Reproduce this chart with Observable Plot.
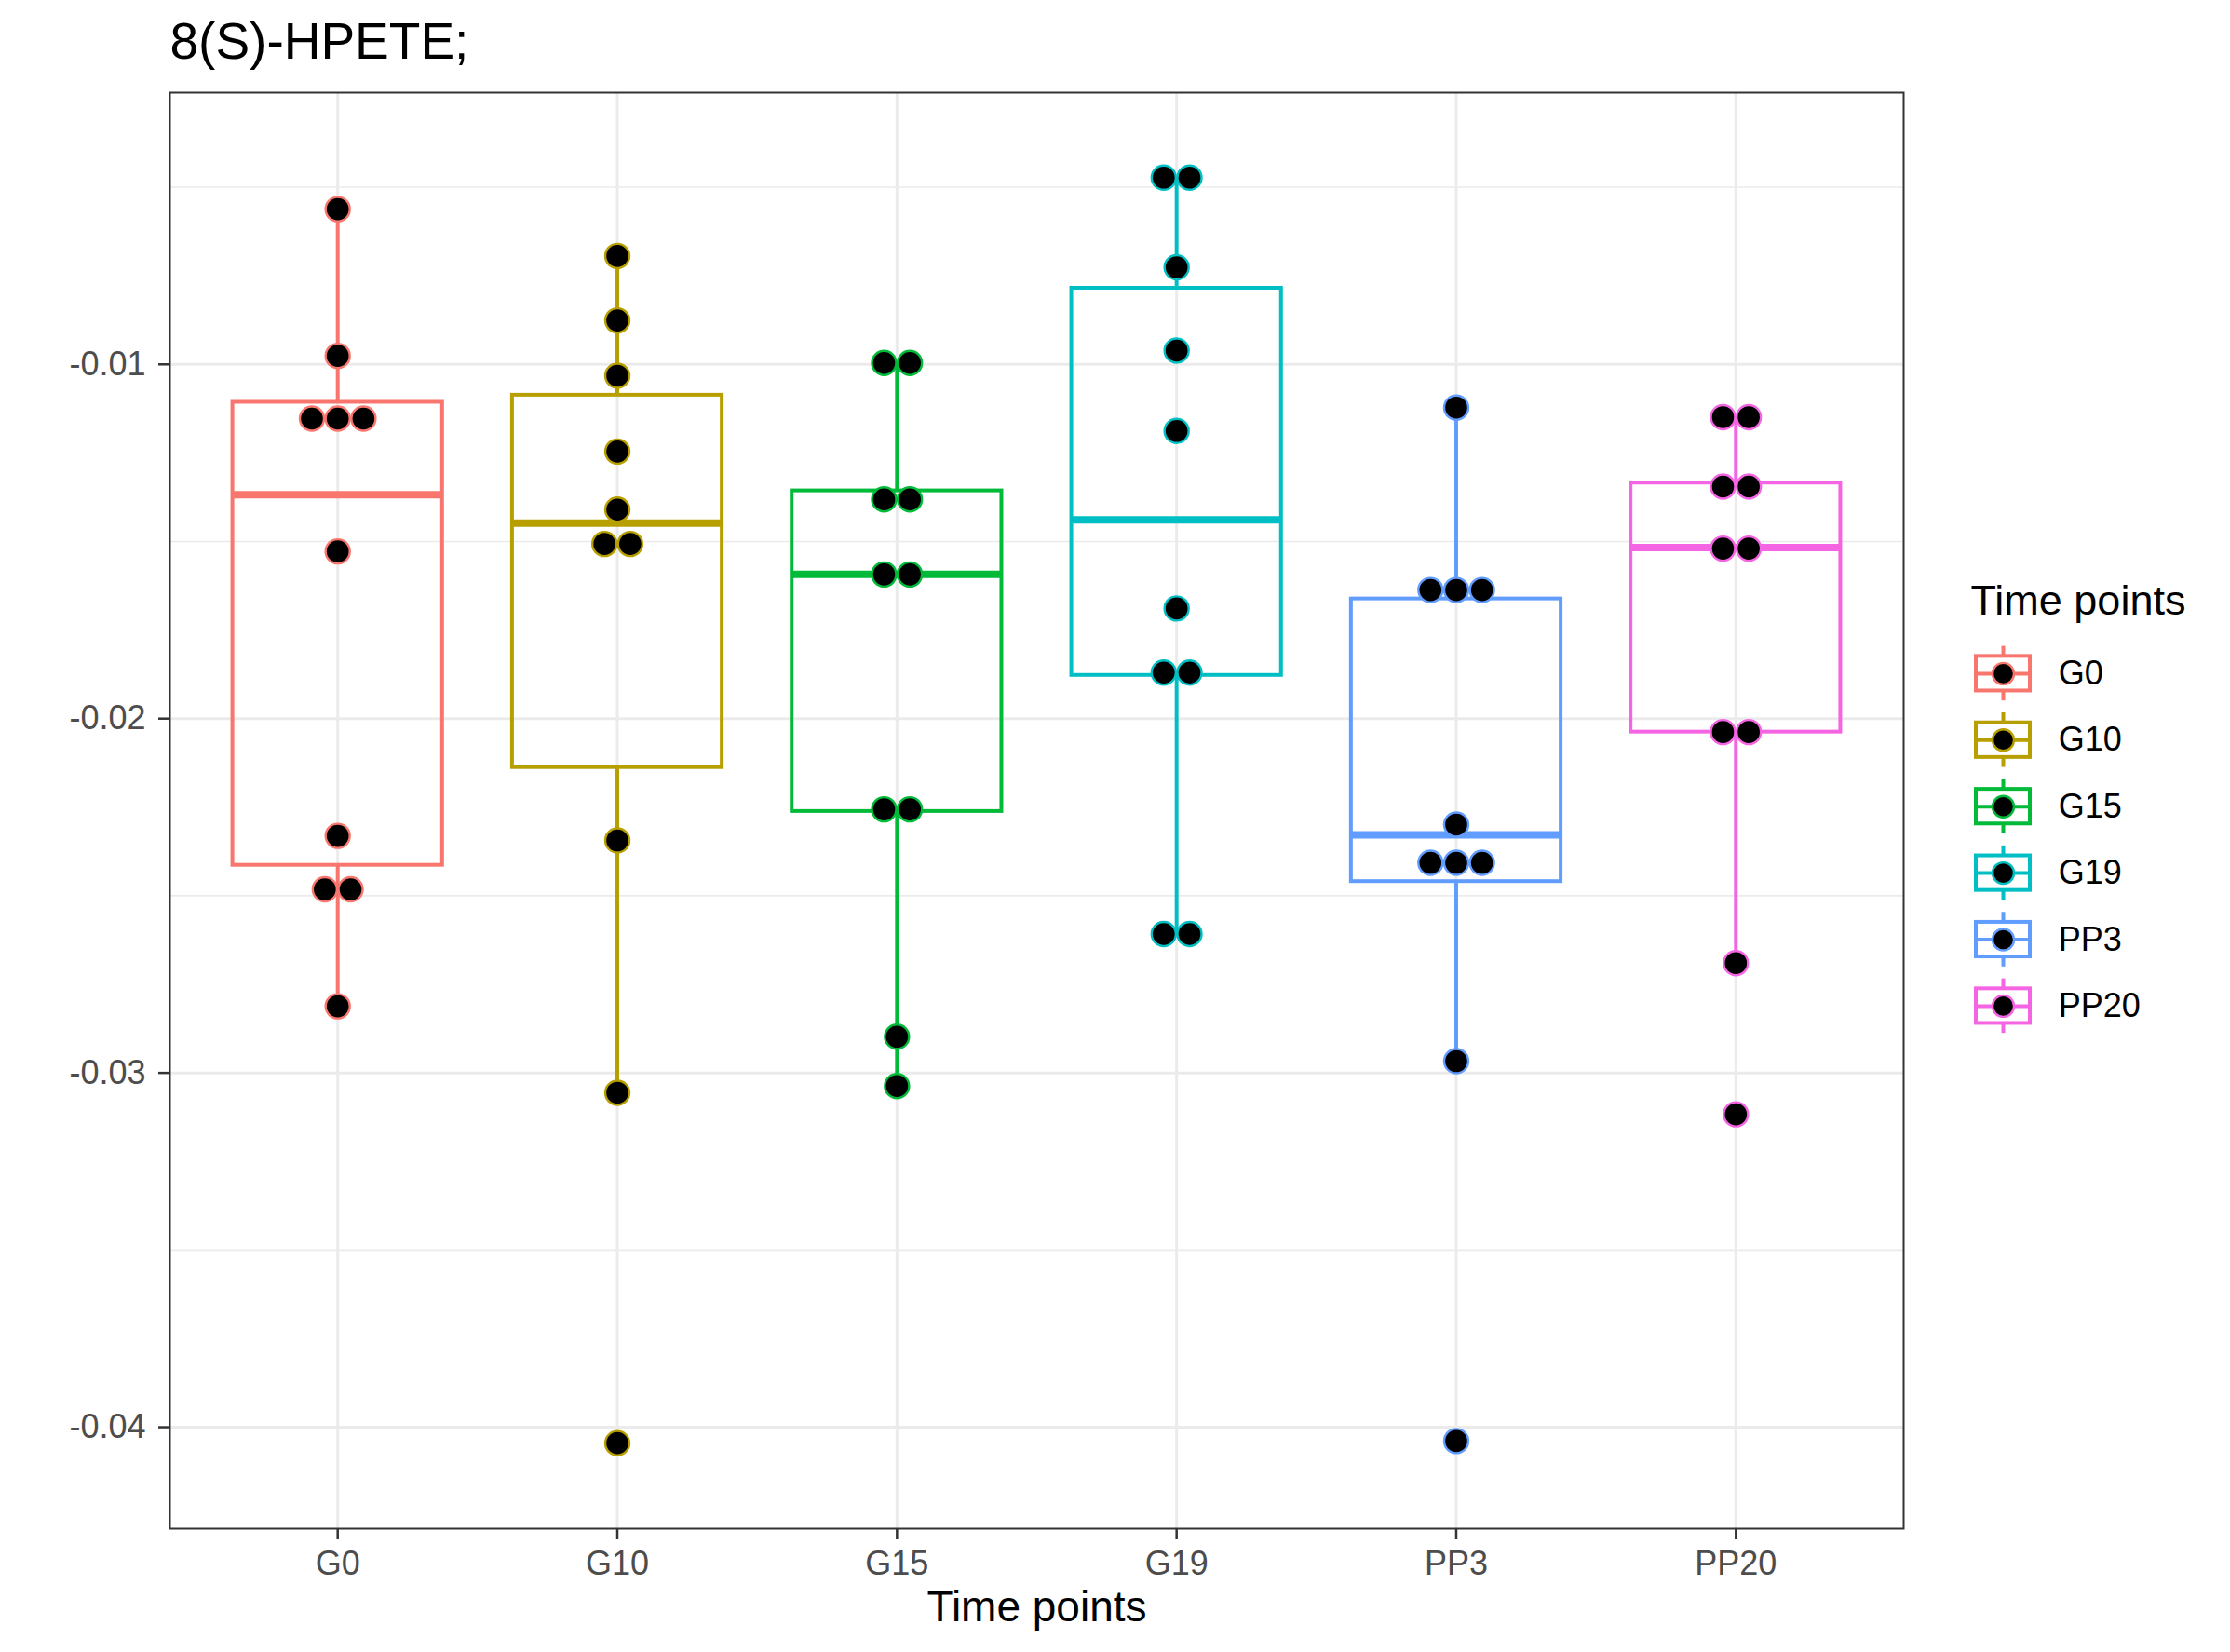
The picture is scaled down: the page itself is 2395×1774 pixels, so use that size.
<!DOCTYPE html>
<html><head><meta charset="utf-8">
<script src="https://cdn.jsdelivr.net/npm/d3@7"></script>
<script src="https://cdn.jsdelivr.net/npm/@observablehq/plot@0.6"></script>
<style>
html,body{margin:0;padding:0;background:#fff;}
#wrap{position:relative;width:2395px;height:1774px;overflow:hidden;background:#fff;}
#wrap svg{position:absolute;}
</style></head><body><div id="wrap"></div>
<script>
const cats = ["G0","G10","G15","G19","PP3","PP20"];
const palette = ["#F8766D","#B79F00","#00BA38","#00BFC4","#619CFF","#F564E3"];

// observed values (as stacked by the dot plot)
const G0   = [-0.00562,-0.00976,-0.01153,-0.01153,-0.01153,-0.01528,-0.02331,-0.02482,-0.02482,-0.02812];
const G10  = [-0.00694,-0.00876,-0.01032,-0.01246,-0.0141,-0.01507,-0.01507,-0.02344,-0.03056,-0.04045];
const G15  = [-0.00996,-0.00996,-0.01381,-0.01381,-0.01593,-0.01593,-0.02256,-0.02256,-0.02898,-0.03037];
const G19  = [-0.00473,-0.00473,-0.00726,-0.00961,-0.01188,-0.01689,-0.0187,-0.0187,-0.02608,-0.02608];
const PP3  = [-0.01122,-0.01637,-0.01637,-0.01637,-0.02299,-0.02407,-0.02407,-0.02407,-0.02967,-0.04039];
const PP20 = [-0.01149,-0.01149,-0.01345,-0.01345,-0.0152,-0.0152,-0.02038,-0.02038,-0.0269,-0.03117];

// box statistics
const whiskerHigh = [-0.00562,-0.00694,-0.00996,-0.00473,-0.01122,-0.01149];
const q3          = [-0.01107,-0.01087,-0.01357,-0.00785,-0.01662,-0.01335];
const median      = [-0.01368,-0.01448,-0.01593,-0.01439,-0.02328,-0.01517];
const q1          = [-0.02414,-0.02138,-0.02262,-0.01878,-0.0246,-0.02038];
const whiskerLow  = [-0.02812,-0.03056,-0.03037,-0.02608,-0.02967,-0.0269];

const yTicks = [-0.04,-0.03,-0.02,-0.01];
const yMinor = [-0.035,-0.025,-0.015,-0.005];

const groups = [G0,G10,G15,G19,PP3,PP20];
const boxes = cats.map((c,i)=>({cat:c,i,lo:whiskerLow[i],q1:q1[i],med:median[i],q3:q3[i],hi:whiskerHigh[i]}));
const dotStep = 0.0922, halfBox = 0.375;
const dots = [];
groups.forEach((vals,i)=>{
  const counts = d3.rollup(vals, v=>v.length, v=>v);
  const seen = new Map();
  vals.forEach(v=>{
    const k = counts.get(v), j = seen.get(v)||0; seen.set(v,j+1);
    dots.push({cat:cats[i], x: i + (j-(k-1)/2)*dotStep, y: v});
  });
});

const font = '"Liberation Sans", Arial, Helvetica, sans-serif';

const main = Plot.plot({
  width: 2395, height: 1774,
  marginLeft: 182, marginRight: 351, marginTop: 99, marginBottom: 133,
  style: {fontFamily: font, background: "transparent", overflow: "visible"},
  x: {type: "linear", domain: [-0.6, 5.6]},
  y: {type: "linear", domain: [-0.042864, -0.00233]},
  color: {type: "ordinal", domain: cats, range: palette},
  marks: [
    Plot.gridY(yMinor, {stroke: "#EBEBEB", strokeOpacity: 1, strokeWidth: 1.6}),
    Plot.gridY(yTicks, {stroke: "#EBEBEB", strokeOpacity: 1, strokeWidth: 3}),
    Plot.gridX(d3.range(cats.length), {stroke: "#EBEBEB", strokeOpacity: 1, strokeWidth: 3}),
    Plot.ruleX(boxes, {x: "i", y1: "q3", y2: "hi", stroke: "cat", strokeWidth: 4}),
    Plot.ruleX(boxes, {x: "i", y1: "lo", y2: "q1", stroke: "cat", strokeWidth: 4}),
    Plot.rect(boxes, {x1: d=>d.i-halfBox, x2: d=>d.i+halfBox, y1: "q1", y2: "q3", stroke: "cat", fill: "none", strokeWidth: 4}),
    Plot.ruleY(boxes, {y: "med", x1: d=>d.i-halfBox, x2: d=>d.i+halfBox, stroke: "cat", strokeWidth: 8}),
    Plot.dot(dots, {x: "x", y: "y", r: 13, fill: "black", stroke: "cat", strokeWidth: 2.4}),
    Plot.frame({stroke: "#333333", strokeWidth: 2}),
    Plot.axisY(yTicks, {tickFormat: d=>String(d), tickSize: 12, tickPadding: 14, fontSize: 36, color: "#4D4D4D", stroke: "#333333", strokeWidth: 2.5, label: null}),
    Plot.axisX(d3.range(cats.length), {tickFormat: i=>cats[i], tickSize: 12, tickPadding: 12, fontSize: 36, color: "#4D4D4D", stroke: "#333333", strokeWidth: 2.5, label: null}),
    Plot.text(["Time points"], {text: d=>d, frameAnchor: "bottom", lineAnchor: "top", dy: 67, fontSize: 46, fill: "black"}),
    Plot.text(["8(S)-HPETE;"], {text: d=>d, frameAnchor: "top-left", textAnchor: "start", lineAnchor: "top", dy: -76, fontSize: 55, fill: "black"})
  ]
});
main.style.left = "0px"; main.style.top = "0px";
document.getElementById("wrap").appendChild(main);

const legendItems = cats.map((c,i)=>({cat:c,i}));
const legend = Plot.plot({
  width: 295, height: 540,
  marginLeft: 0, marginRight: 0, marginTop: 0, marginBottom: 0,
  style: {fontFamily: font, background: "transparent", overflow: "visible"},
  x: {type: "linear", domain: [0,1], range: [22,80], axis: null},
  y: {type: "linear", domain: [0,5], range: [122.9, 479.9], axis: null},
  color: {type: "ordinal", domain: cats, range: palette},
  marks: [
    Plot.ruleX(legendItems, {x: 0.5, y1: d=>d.i-0.41, y2: d=>d.i+0.41, stroke: "cat", strokeWidth: 4}),
    Plot.rect(legendItems, {x1: 0, x2: 1, y1: d=>d.i-0.26, y2: d=>d.i+0.26, stroke: "cat", fill: "white", strokeWidth: 4}),
    Plot.ruleY(legendItems, {y: "i", x1: 0, x2: 1, stroke: "cat", strokeWidth: 4}),
    Plot.dot(legendItems, {x: 0.5, y: "i", r: 11.5, fill: "black", stroke: "cat", strokeWidth: 2.4}),
    Plot.text(legendItems, {x: 1.52, y: "i", text: "cat", textAnchor: "start", fontSize: 36, fill: "black"}),
    Plot.text(["Time points"], {text: d=>d, frameAnchor: "top-left", textAnchor: "start", lineAnchor: "top", dx: 16, dy: 28, fontSize: 45, fill: "black"})
  ]
});
legend.style.left = "2100px"; legend.style.top = "600px";
document.getElementById("wrap").appendChild(legend);
</script>
</body></html>
